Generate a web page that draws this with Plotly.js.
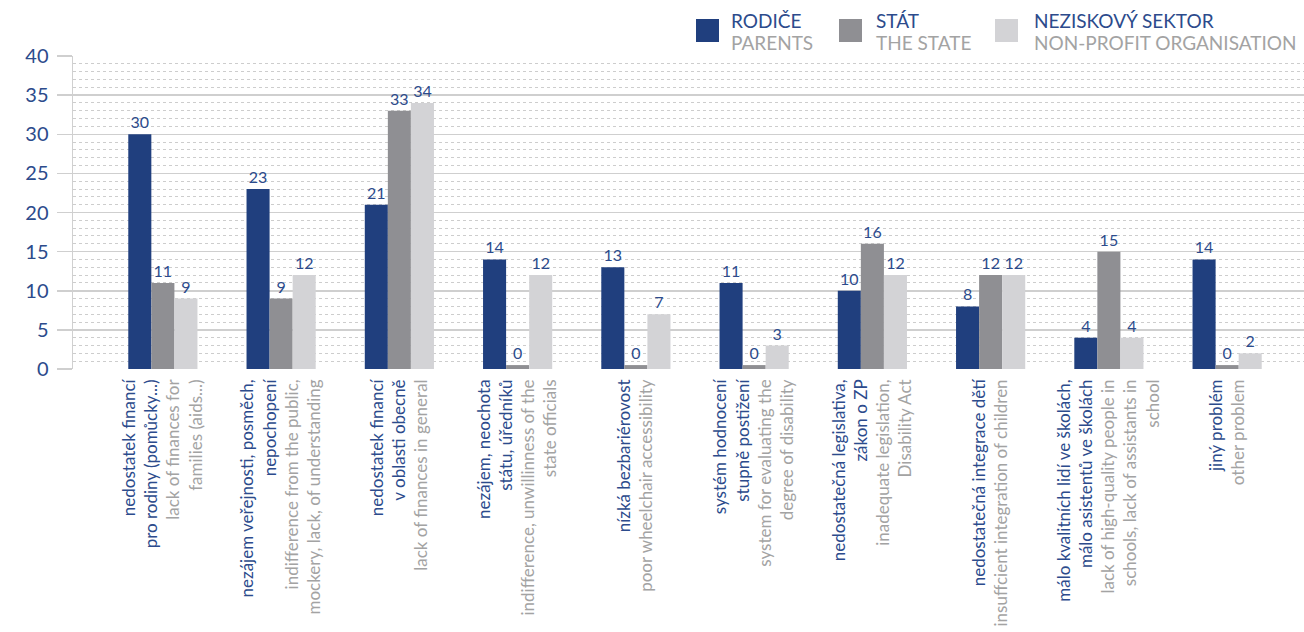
<!DOCTYPE html>
<html>
<head>
<meta charset="utf-8">
<script src="https://cdn.plot.ly/plotly-3.0.1.min.js"></script>
<style>html,body{margin:0;padding:0;background:#fff;}#chart{width:1304px;height:632px;}</style>
</head>
<body>
<div id="chart"></div>
<script>
const czLabels = [
  "nedostatek financí<br>pro rodiny (pomůcky...)",
  "nezájem veřejnosti, posměch,<br>nepochopení",
  "nedostatek financí<br>v oblasti obecně",
  "nezájem, neochota<br>státu, úředníků",
  "nízká bezbariérovost",
  "systém hodnocení<br>stupně postižení",
  "nedostatečná legislativa,<br>zákon o ZP",
  "nedostatečná integrace dětí",
  "málo kvalitních lidí ve školách,<br>málo asistentů ve školách",
  "jiný problém"
];
const enLabels = [
  "lack of finances for<br>families (aids...)",
  "indifference from the public,<br>mockery, lack, of understanding",
  "lack of finances in general",
  "indifference, unwillinness of the<br>state officials",
  "poor wheelchair accessibility",
  "system for evaluating the<br>degree of disability",
  "inadequate legislation,<br>Disability Act",
  "insuffcient integration of children",
  "lack of high-quality people in<br>schools, lack of assistants in<br>school",
  "other problem"
];
const parents = [30, 23, 21, 14, 13, 11, 10, 8, 4, 14];
const state   = [11, 9, 33, 0, 0, 0, 16, 12, 15, 0];
const ngo     = [9, 12, 34, 12, 7, 3, 12, 12, 4, 2];
const seriesNames = ["RODIČE", "STÁT", "NEZISKOVÝ SEKTOR"];
const seriesNamesEn = ["PARENTS", "THE STATE", "NON-PROFIT ORGANISATION"];
const yTicks = [0, 5, 10, 15, 20, 25, 30, 35, 40];

const BLUE = "#203f7e", GREY = "#8f8f93", LIGHT = "#d3d3d6";
const TXT_BLUE = "#2c4b8c", TXT_GREY = "#a3a3a3";
const FONT = "Lato, 'Open Sans', sans-serif";
const colors = [BLUE, GREY, LIGHT];
const idx = parents.map((_, i) => i);
const STUB = 0.5; // zero values drawn as a thin stub, as in the original

function trace(vals, k) {
  return {
    type: "bar", x: idx, y: vals.map(v => v === 0 ? STUB : v),
    name: seriesNames[k],
    marker: {color: colors[k]},
    text: vals.map(String), textposition: "outside", cliponaxis: false,
    constraintext: "none",
    textfont: {family: FONT, size: 16, color: TXT_BLUE},
    hoverinfo: "skip"
  };
}

const tickText = czLabels.map((c, i) =>
  `<span style="color:${TXT_BLUE}">${c}</span><br><span style="color:${TXT_GREY}">${enLabels[i]}</span>`);

// legend drawn in paper coordinates (plot area: x 73..1304 px, y 56..369 px)
const PX = x => (x - 73) / 1231;
const PY = y => (369 - y) / 313;
const legSq = [696, 839, 995];
const legTx = [729, 874, 1032];
const shapes = [];
const annotations = [];
for (let k = 0; k < 3; k++) {
  shapes.push({type: "rect", xref: "paper", yref: "paper",
    x0: PX(legSq[k]), x1: PX(legSq[k] + 23), y0: PY(42), y1: PY(19),
    fillcolor: colors[k], line: {width: 0}});
  annotations.push({xref: "paper", yref: "paper", x: PX(legTx[k]), y: PY(20),
    xanchor: "left", yanchor: "middle", showarrow: false,
    text: seriesNames[k], font: {family: FONT, size: 19, color: TXT_BLUE}});
  annotations.push({xref: "paper", yref: "paper", x: PX(legTx[k]), y: PY(42),
    xanchor: "left", yanchor: "middle", showarrow: false,
    text: seriesNamesEn[k], font: {family: FONT, size: 19, color: TXT_GREY}});
}

const layout = {
  width: 1304, height: 632,
  margin: {l: 73, r: 0, t: 56, b: 263},
  paper_bgcolor: "#fff", plot_bgcolor: "#fff",
  barmode: "group", bargap: 0.415, bargroupgap: 0,
  showlegend: false,
  font: {family: FONT},
  xaxis: {
    range: [-0.76, 9.65], tickvals: idx, ticktext: tickText,
    tickangle: -90, ticks: "", showgrid: false, zeroline: false,
    showline: false, tickfont: {family: FONT, size: 17},
    ticklabelstandoff: 6, automargin: false
  },
  yaxis: {
    range: [0, 40], tickvals: yTicks, ticktext: yTicks.map(String),
    ticks: "outside", ticklen: 15, tickcolor: "#cfcfcf", tickwidth: 1.5,
    showgrid: true, gridcolor: "#cfcfcf", gridwidth: 1.5,
    minor: {dtick: 1, showgrid: true, gridcolor: "#cdcdcd", griddash: "dot", gridwidth: 1, ticks: ""},
    showline: true, linecolor: "#d0d0d0", linewidth: 1.5,
    zeroline: false,
    tickfont: {family: FONT, size: 20, color: TXT_BLUE},
    ticklabelstandoff: 4, automargin: false
  },
  shapes: shapes, annotations: annotations
};

Plotly.newPlot("chart", [trace(parents, 0), trace(state, 1), trace(ngo, 2)], layout,
  {displayModeBar: false, staticPlot: true});
</script>
</body>
</html>
